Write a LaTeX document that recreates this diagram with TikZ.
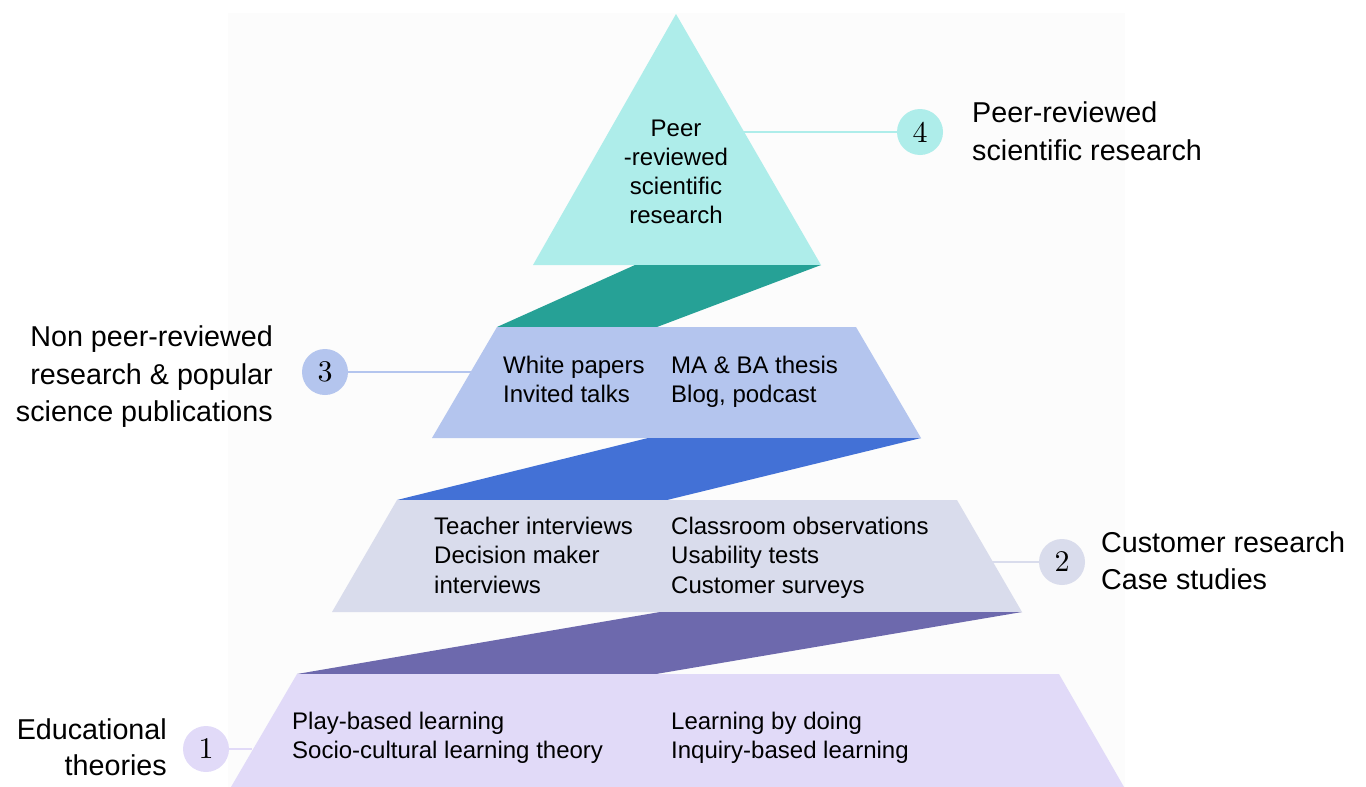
\documentclass[tikz,border=0pt]{standalone}
\usepackage{fontspec}
\newfontfamily\labfont{Liberation Sans}
\newfontfamily\numfont[Extension=.otf]{lmroman10-regular}
\definecolor{tri}{HTML}{AEEDEA}
\definecolor{teal}{HTML}{26A196}
\definecolor{bandC}{HTML}{B4C5EE}
\definecolor{blueS}{HTML}{4371D6}
\definecolor{bandB}{HTML}{D9DCEC}
\definecolor{purpS}{HTML}{6D69AD}
\definecolor{bandA}{HTML}{E1DAF8}
\definecolor{bgc}{HTML}{FCFCFC}
\begin{document}
\begin{tikzpicture}[x=1pt,y=-1pt,
  small/.style={font=\labfont\fontsize{24}{29}\selectfont, inner sep=0pt, anchor=base west},
  smallc/.style={font=\labfont\fontsize{24}{29}\selectfont, inner sep=0pt, anchor=base},
  bigl/.style={font=\labfont\fontsize{28.7}{38}\selectfont, inner sep=0pt, anchor=base west},
  bigr/.style={font=\labfont\fontsize{28.7}{38}\selectfont, inner sep=0pt, anchor=base east},
  num/.style={circle, minimum size=46pt, inner sep=0pt, font=\numfont\fontsize{30}{30}\selectfont},
  conn/.style={line width=2.5pt}]
\useasboundingbox (0,0) rectangle (1366,787);
\fill[bgc] (228,13) rectangle (1125,787);
% pyramid
\fill[tri] (676,14) -- (821,265) -- (533,265) -- cycle;
\fill[teal] (635,265) -- (821,265) -- (657,327) -- (497,327) -- cycle;
\fill[bandC] (497,327) -- (856,327) -- (921,438) -- (432,438) -- cycle;
\fill[blueS] (648,438) -- (921,438) -- (667,500) -- (397,500) -- cycle;
\fill[bandB] (397,500) -- (957,500) -- (1022,612) -- (332,612) -- cycle;
\fill[purpS] (660,612) -- (1022,612) -- (656,674) -- (297,674) -- cycle;
\fill[bandA] (297,674) -- (1059,674) -- (1124,787) -- (231,787) -- cycle;
% numbered circles
\node[num, fill=tri] (n4) at (920,132) {4};
\node[num, fill=bandC] (n3) at (325,372) {3};
\node[num, fill=bandB] (n2) at (1062,562) {2};
\node[num, fill=bandA] (n1) at (206,749) {1};
\coordinate (e4) at (743,132);
\coordinate (e3) at (471,372);
\coordinate (e2) at (992,562);
\coordinate (e1) at (252,749);
\draw[conn, tri] (e4) -- (n4);
\draw[conn, bandC] (e3) -- (n3);
\draw[conn, bandB] (e2) -- (n2);
\draw[conn, bandA] (e1) -- (n1);
% outer labels
\node[bigl] (l4a) at (972,122) {Peer-reviewed};
\node[bigl] (l4b) at (972,160) {scientific research};
\node[bigr] (l3a) at (273,346) {Non peer-reviewed};
\node[bigr] (l3b) at (273,384) {research \& popular};
\node[bigr] (l3c) at (273,421) {science publications};
\node[bigl] (l2a) at (1101,552) {Customer research};
\node[bigl] (l2b) at (1101,589) {Case studies};
\node[bigr] (l1a) at (167,739) {Educational};
\node[bigr] (l1b) at (167,775) {theories};
% inner texts
\node[smallc] (t4a) at (676,136) {Peer};
\node[smallc] (t4b) at (676,165) {-reviewed};
\node[smallc] (t4c) at (676,194) {scientific};
\node[smallc] (t4d) at (676,223) {research};
\node[small] (t3a) at (503,373) {White papers};
\node[small] (t3b) at (503,402) {Invited talks};
\node[small] (t3c) at (671,373) {MA \& BA thesis};
\node[small] (t3d) at (671,402) {Blog, podcast};
\node[small] (t2a) at (434,534) {Teacher interviews};
\node[small] (t2b) at (434,563) {Decision maker};
\node[small] (t2c) at (434,593) {interviews};
\node[small] (t2d) at (671,534) {Classroom observations};
\node[small] (t2e) at (671,563) {Usability tests};
\node[small] (t2f) at (671,593) {Customer surveys};
\node[small] (t1a) at (292,729) {Play-based learning};
\node[small] (t1b) at (292,758) {Socio-cultural learning theory};
\node[small] (t1c) at (671,729) {Learning by doing};
\node[small] (t1d) at (671,758) {Inquiry-based learning};
\end{tikzpicture}
\end{document}
